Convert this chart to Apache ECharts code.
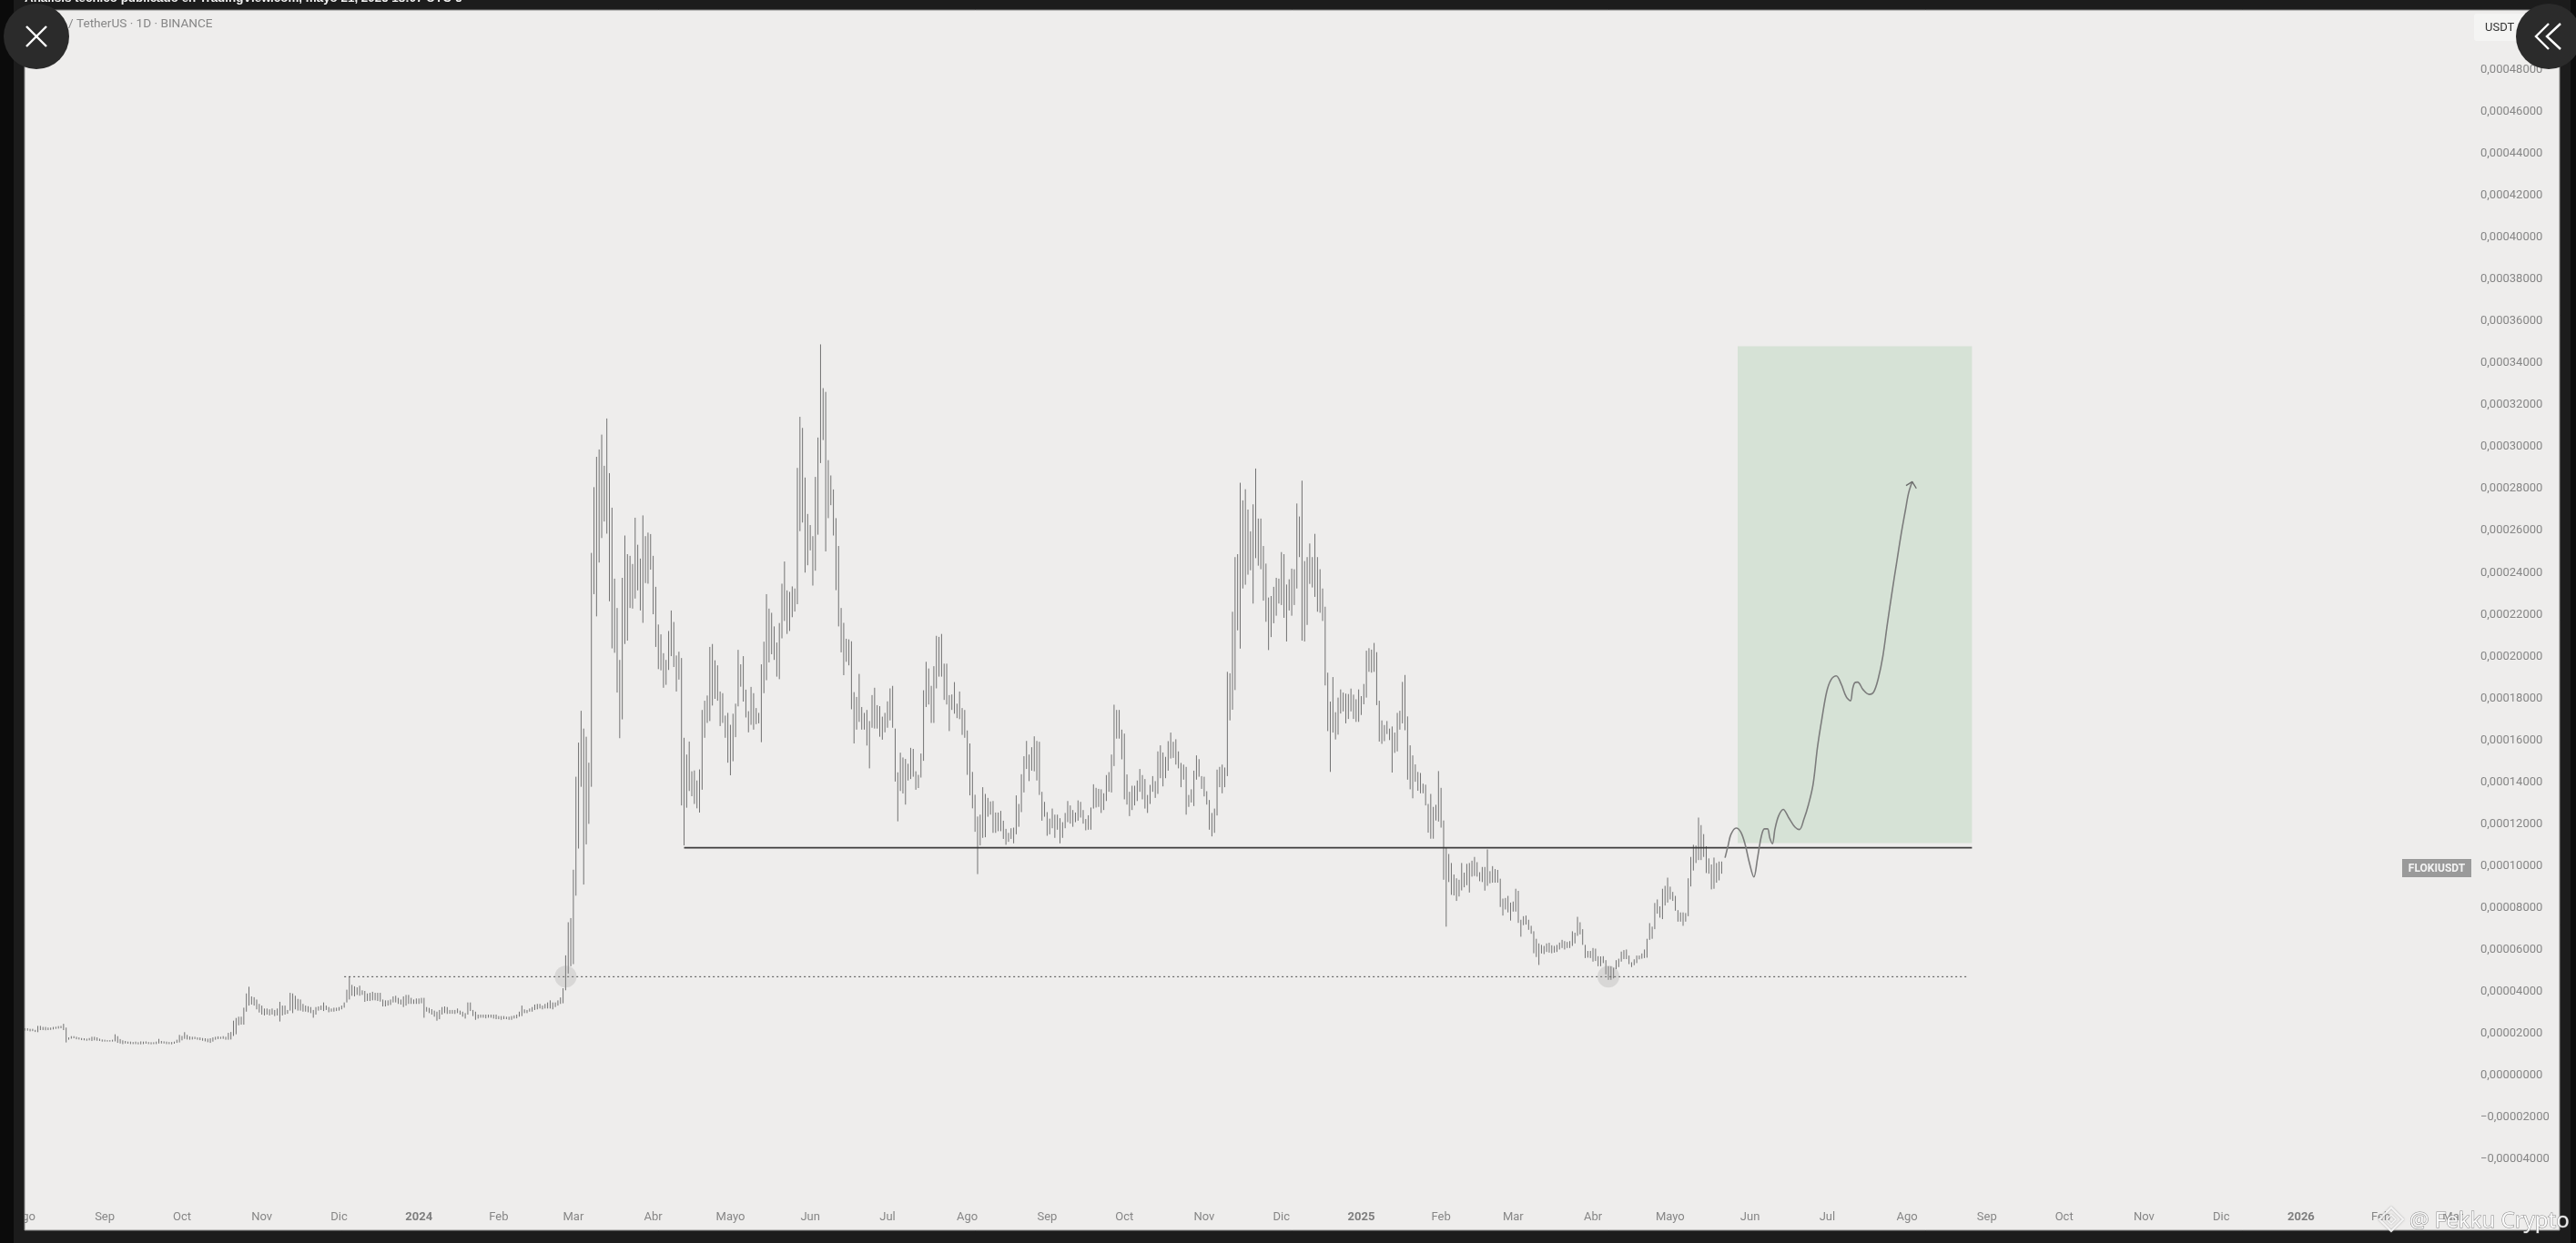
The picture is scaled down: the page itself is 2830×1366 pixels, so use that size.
<!DOCTYPE html>
<html><head><meta charset="utf-8"><title>FLOKI / TetherUS 1D</title>
<style>html,body{margin:0;padding:0;background:#1c1c1c}#c{width:2830px;height:1366px}</style>
<script src="https://cdn.jsdelivr.net/npm/echarts@6/dist/echarts.min.js"></script></head>
<body><div id="c"></div><script>
// Prices are in units of 0.00001 USDT, one entry per daily bar from 2023-08-01.
const barHigh = [
2.24,2.24,2.21,2.21,2.16,2.35,2.35,2.30,2.30,2.27,
2.27,2.30,2.31,2.34,2.35,2.45,2.27,1.80,1.86,1.86,
1.83,1.80,1.77,1.76,1.74,1.77,1.83,1.83,1.80,1.74,
1.70,1.69,1.67,1.67,1.69,1.95,1.86,1.72,1.66,1.63,
1.60,1.60,1.58,1.60,1.57,1.61,1.60,1.61,1.58,1.57,
1.57,1.60,1.73,1.63,1.61,1.60,1.58,1.58,1.60,1.69,
1.92,1.87,2.05,1.92,1.85,1.83,1.83,1.80,1.80,1.77,
1.76,1.74,1.76,1.80,1.83,1.85,1.83,1.86,1.83,2.02,
2.06,2.60,2.73,2.79,2.79,3.22,3.90,4.22,3.76,3.72,
3.61,3.40,3.32,3.18,3.18,3.14,3.18,3.11,3.18,3.50,
3.32,3.32,3.11,3.93,3.90,3.79,3.64,3.61,3.40,3.32,
3.29,3.25,3.11,3.25,3.28,3.32,3.47,3.32,3.25,3.18,
3.22,3.22,3.25,3.32,3.47,4.08,4.70,4.31,4.24,4.19,
4.27,4.05,4.02,3.90,3.93,3.98,3.93,3.93,3.93,3.61,
3.57,3.57,3.61,3.76,3.79,3.69,3.61,3.76,3.83,3.83,
3.69,3.61,3.66,3.66,3.69,3.69,3.25,3.21,3.15,3.08,
3.03,3.11,3.25,3.28,3.25,3.11,3.11,3.11,3.18,3.08,
3.03,2.96,3.47,3.47,3.11,3.03,2.89,2.89,2.89,2.89,
2.89,2.89,2.89,2.89,2.82,2.82,2.82,2.79,2.79,2.82,
2.85,2.89,3.03,3.32,3.14,3.11,3.18,3.25,3.37,3.40,
3.40,3.32,3.40,3.47,3.57,3.47,3.47,3.57,3.71,4.15,
5.72,7.30,7.50,9.81,14.25,15.88,17.40,16.55,16.16,14.92,
24.94,28.08,29.53,29.88,30.59,29.10,31.36,28.75,27.10,23.71,
22.31,19.83,23.75,25.77,24.88,24.80,24.41,26.62,25.33,24.67,
26.73,25.74,25.91,25.84,24.80,23.32,21.52,21.05,20.15,19.83,
21.21,22.19,21.64,20.04,20.22,19.92,16.11,15.31,15.93,14.51,
14.55,14.07,14.60,17.44,17.88,18.13,20.45,20.59,19.81,19.57,
18.32,18.24,17.17,17.30,16.73,17.26,17.74,20.31,19.62,20.01,
18.41,17.38,18.54,18.24,17.53,17.30,19.62,20.70,22.97,22.28,
22.08,21.43,20.66,21.59,23.47,24.53,23.15,23.08,23.34,23.24,
29.00,31.44,30.91,28.54,26.80,26.27,25.74,28.57,30.45,34.90,
32.81,32.63,29.37,28.64,27.97,26.60,25.27,22.31,21.60,20.84,
20.81,20.72,18.29,18.06,19.16,17.58,17.30,17.44,16.91,18.15,
18.50,17.67,17.62,17.12,17.30,17.85,18.47,18.59,16.55,14.46,
15.40,15.17,15.10,14.87,15.63,15.58,14.51,14.34,15.36,18.38,
19.74,19.42,18.59,19.53,20.98,20.93,21.07,19.65,19.65,18.15,
18.18,18.77,17.74,18.32,17.53,17.44,16.46,15.84,14.48,13.39,
12.35,12.44,13.75,13.43,13.24,13.07,13.09,12.54,12.54,12.62,
12.15,11.76,11.57,11.79,11.82,13.36,12.95,14.37,15.23,15.96,
15.31,15.66,16.18,15.96,15.92,13.53,13.05,12.56,12.25,12.73,
12.44,12.44,12.27,12.08,12.52,13.09,12.88,12.66,12.54,13.12,
13.05,12.66,12.23,12.41,12.78,13.89,13.72,13.67,13.65,13.46,
14.33,14.47,15.31,17.69,17.44,17.44,16.50,16.31,14.36,13.53,
13.82,13.82,14.07,14.62,14.33,14.14,13.38,13.86,14.28,14.04,
15.46,15.75,15.41,15.20,15.95,16.36,15.92,16.04,15.46,14.91,
14.83,14.72,13.38,13.65,14.54,15.27,15.09,14.28,14.25,13.56,
13.14,12.52,12.73,14.59,14.72,14.83,14.69,19.26,19.19,22.13,
24.74,24.88,28.29,27.45,27.98,27.01,25.97,27.26,28.97,26.58,
26.58,25.27,24.43,22.81,22.88,23.32,23.75,23.71,24.98,24.88,
23.43,23.68,24.19,24.16,27.30,26.68,28.39,24.55,24.74,25.39,
24.74,25.85,24.74,24.16,23.24,22.37,19.22,17.84,19.01,17.33,
18.03,18.42,18.27,18.22,18.20,18.46,18.17,17.95,18.42,18.10,
18.68,20.27,20.39,20.32,20.64,20.20,17.88,16.94,16.72,16.91,
16.55,16.65,16.36,17.30,17.40,18.78,19.11,17.13,15.75,15.27,
14.84,14.48,14.43,13.92,13.87,12.95,13.43,12.81,12.91,14.52,
13.72,12.16,10.85,10.56,10.13,9.58,9.40,9.33,10.13,9.67,
10.09,10.13,10.24,10.42,10.17,9.69,9.94,9.94,10.78,9.74,
9.98,9.84,9.80,9.38,8.43,8.46,8.56,8.24,8.29,8.90,
8.80,7.42,7.59,7.62,7.42,7.13,6.87,6.51,6.29,6.22,
6.17,6.29,6.32,6.20,6.17,6.22,6.33,6.46,6.40,6.36,
6.40,6.87,6.80,7.56,7.30,6.97,6.22,5.93,5.93,6.07,
6.04,5.68,5.67,5.68,5.49,5.20,5.20,5.13,5.49,5.56,
5.90,5.97,6.00,5.71,5.39,5.53,5.71,5.71,5.81,6.00,
6.51,7.26,7.09,8.22,8.39,8.06,8.90,9.04,9.43,9.00,
8.75,8.56,7.88,7.77,7.77,7.74,9.40,10.42,11.00,10.96,
12.30,11.94,11.51,10.93,10.35,10.06,10.39,10.13,10.20,10.20];
const barLow = [
2.12,2.12,2.09,2.10,2.06,2.05,2.15,2.15,2.14,2.15,
2.16,2.18,2.21,2.22,2.24,2.15,1.56,1.69,1.74,1.76,
1.71,1.70,1.67,1.66,1.64,1.66,1.63,1.66,1.64,1.63,
1.60,1.60,1.60,1.60,1.60,1.61,1.54,1.51,1.48,1.51,
1.50,1.48,1.48,1.48,1.47,1.47,1.48,1.50,1.48,1.47,
1.48,1.48,1.51,1.51,1.51,1.48,1.48,1.47,1.50,1.54,
1.56,1.66,1.73,1.70,1.69,1.70,1.72,1.69,1.67,1.64,
1.61,1.57,1.54,1.60,1.69,1.72,1.73,1.73,1.69,1.69,
1.70,1.87,1.95,2.38,2.41,2.41,3.03,3.32,3.37,3.32,
3.14,2.99,2.89,2.85,2.89,2.85,2.89,2.82,2.85,2.56,
2.85,2.89,2.93,3.08,2.96,3.14,3.08,3.08,3.03,3.03,
3.00,2.96,2.74,2.89,3.08,3.11,3.06,3.11,3.00,3.03,
3.03,3.06,3.08,3.14,3.22,3.47,3.61,3.79,3.76,3.83,
3.79,3.83,3.50,3.54,3.54,3.57,3.57,3.54,3.51,3.28,
3.28,3.32,3.35,3.47,3.47,3.40,3.37,3.25,3.32,3.40,
3.40,3.40,3.40,3.40,3.43,2.74,3.03,2.96,2.89,2.79,
2.60,2.67,2.89,2.96,2.92,2.93,2.93,2.92,2.96,2.89,
2.79,2.70,2.89,3.06,2.82,2.64,2.70,2.74,2.74,2.71,
2.74,2.74,2.70,2.67,2.67,2.64,2.67,2.67,2.64,2.64,
2.70,2.71,2.79,2.82,2.96,2.96,3.03,3.03,3.11,3.14,
3.18,3.14,3.18,3.18,3.18,3.14,3.25,3.32,3.40,3.43,
4.05,4.85,5.20,5.30,8.57,10.82,13.77,9.10,11.02,12.00,
13.77,22.97,21.91,24.48,25.65,26.44,25.86,22.63,20.38,20.17,
18.27,16.09,16.99,20.59,20.75,22.31,22.28,22.76,23.15,22.19,
21.60,23.50,23.47,24.14,22.01,20.45,19.39,19.33,18.50,18.64,
19.35,20.01,19.49,18.32,18.89,12.88,10.97,12.77,13.57,13.32,
12.95,12.74,12.54,13.63,16.11,16.82,16.91,17.65,17.97,17.88,
16.67,16.82,16.11,14.92,14.32,14.99,16.14,17.61,18.55,17.84,
17.08,16.37,16.73,16.50,16.76,16.80,15.90,18.24,18.86,19.71,
20.10,19.83,19.03,18.91,20.86,21.69,21.07,21.21,21.87,22.14,
22.49,25.98,26.39,24.00,24.35,25.06,23.38,24.09,25.81,29.23,
30.33,25.01,26.60,27.22,25.77,23.16,21.43,20.19,19.10,19.74,
19.57,17.47,15.84,16.50,16.87,16.50,16.50,15.74,14.65,16.59,
16.55,16.55,16.16,16.02,16.37,16.59,16.94,16.59,14.02,12.12,
13.57,13.45,12.92,14.07,14.14,14.25,13.63,13.71,14.21,15.01,
17.58,17.70,16.82,16.82,18.47,19.03,19.03,17.92,17.70,16.43,
17.44,17.26,17.05,17.00,16.25,16.11,14.34,13.36,12.74,11.62,
9.60,10.97,11.33,11.36,12.34,12.44,11.57,11.57,11.65,11.65,
11.28,11.00,11.14,11.28,11.07,11.50,11.86,12.56,13.50,14.62,
14.04,14.54,14.51,14.07,13.38,12.15,12.34,11.43,11.50,11.79,
11.33,11.72,11.07,11.33,11.79,12.08,12.01,11.86,12.08,12.15,
12.30,12.01,11.69,11.72,11.72,12.73,12.78,12.81,12.52,12.66,
13.09,13.53,13.50,14.76,16.07,16.07,15.08,13.17,12.92,12.37,
12.66,12.88,13.09,13.53,13.17,12.73,12.52,12.95,13.53,13.24,
13.43,14.18,13.79,14.18,14.54,15.12,15.15,14.83,14.65,13.75,
14.11,12.44,12.81,13.02,12.85,14.11,14.25,13.67,13.31,12.92,
11.72,11.40,11.57,12.40,13.75,13.46,13.75,14.28,16.94,17.45,
18.39,21.24,20.37,23.24,23.42,23.90,24.11,22.52,24.69,24.33,
24.16,22.66,21.65,20.30,20.92,21.58,21.94,22.52,22.45,21.84,
20.71,22.19,21.94,22.45,23.24,24.74,20.75,20.71,21.50,23.46,
23.29,22.84,22.13,22.08,21.69,18.61,16.43,14.48,16.36,16.03,
16.26,17.27,17.37,16.80,17.01,17.37,17.01,16.87,16.87,17.20,
17.71,18.03,19.26,19.22,19.26,17.67,15.93,15.82,15.95,16.29,
16.00,14.45,15.39,15.46,16.50,16.80,16.47,14.11,13.65,13.22,
14.01,13.58,13.46,13.46,12.88,11.58,11.29,11.29,12.16,12.11,
11.82,9.33,7.09,9.22,8.61,8.58,8.32,8.53,8.82,8.97,
9.07,8.72,9.48,9.51,9.48,9.26,9.22,8.81,9.04,9.16,
9.19,9.19,9.19,8.03,7.62,7.91,7.77,7.38,7.81,7.81,
7.27,6.61,7.16,7.19,6.94,6.75,5.82,5.64,5.26,5.81,
5.78,5.88,5.85,5.82,5.85,5.88,6.00,6.07,6.00,6.07,
6.07,6.17,6.29,6.65,6.72,6.22,5.59,5.61,5.59,5.42,
5.45,5.20,5.20,5.35,4.81,4.55,4.55,4.62,5.06,5.16,
5.42,5.54,5.54,5.30,5.16,5.25,5.35,5.53,5.56,5.59,
5.61,6.46,6.51,6.97,7.71,7.52,7.45,8.10,8.24,8.39,
8.32,7.85,7.33,7.33,7.13,7.33,7.59,9.01,9.77,10.13,
10.27,10.27,10.42,9.65,9.62,8.87,8.90,9.19,9.30,9.62];

// Hand-drawn projection, as [bar number, price]
const projectionDay = [660.3,661.5,662.6,664.6,666.5,668.2,669.7,671.5,672.9,674.4,675.6,676.8,677.7,678.7,679.7,681.1,682.9,685.0,687.4,689.2,690.9,692.7,694.5,696.2,698.0,699.8,701.5,703.5,705.4,707.4,709.0,709.8,710.6,711.8,713.9,716.3,718.0,719.8,721.6,723.3,725.1,726.9,728.6,730.4,731.6,733.0];
const projectionPrice = [10.38,10.97,11.50,11.80,11.59,10.97,10.17,9.46,10.35,11.41,11.76,11.76,11.32,11.05,11.76,12.38,12.69,12.30,11.85,11.73,12.21,12.92,13.89,15.66,17.08,18.32,18.89,19.07,18.68,18.06,17.88,18.41,18.73,18.77,18.41,18.18,18.29,18.94,20.01,21.52,23.02,24.44,25.77,27.01,27.81,28.34];
const arrowDay = [730.6,733.0,734.6];
const arrowPrice = [28.16,28.34,28.02];

const supportSolid = {from:256, to:756.2, price:10.86};
const supportDotted = {from:124, to:754.8, price:4.70};
const targetBox = {from:665.2, to:756.2, top:34.81, bottom:11.08};
const touchDay = [210.0,615.0];
const touchPrice = [4.70,4.70];

const monthNames = ['','Feb','Mar','Abr','Mayo','Jun','Jul','Ago','Sep','Oct','Nov','Dic'];
const START = Date.UTC(2023,7,1), DAY = 86400000, CATEGORY_COUNT = 951;
const categories = [];
for (let i=0;i<CATEGORY_COUNT;i++) categories.push(new Date(START+i*DAY).toISOString().slice(0,10));

const GREY='#727272', LABEL='#868686', FONT='Roboto, sans-serif';
const chart = echarts.init(document.getElementById('c'),null,{renderer:'canvas'});
const W=2830,H=1366;
function pair(xs,ys){return xs.map((x,i)=>[x,ys[i]]);}
const frame='#1c1c1c', ink='#0b0b0b';
chart.setOption({
  animation:false,
  backgroundColor:'#eeedec',
  grid:{left:26,top:54,width:2690,height:1265.56,containLabel:false},
  xAxis:[
   {type:'category',data:categories,boundaryGap:true,
    axisLine:{show:false},axisTick:{show:false},splitLine:{show:false},
    axisLabel:{margin:12,color:LABEL,fontFamily:FONT,fontSize:13,hideOverlap:false,
      interval:(i,v)=>v.slice(8)==='01',
      formatter:v=>{const m=+v.slice(5,7);return m===1?'{y|'+v.slice(0,4)+'}':monthNames[m-1];},
      rich:{y:{fontFamily:FONT,fontSize:13,fontWeight:'bold',color:'#7e7e7e'}}}},
   {type:'value',min:-0.5,max:CATEGORY_COUNT-0.5,show:false,position:'top'}
  ],
  yAxis:{type:'value',position:'right',min:-6,max:49,interval:2,scale:false,
    axisLine:{show:false},axisTick:{show:false},splitLine:{show:false},
    axisLabel:{margin:9,showMinLabel:false,showMaxLabel:false,color:LABEL,fontFamily:FONT,fontSize:13,
      formatter:v=>{const a=(Math.abs(v)*1e-5).toFixed(8).replace('.',',');return v<0?'\u2212'+a:a;}}},
  series:[
   {type:'line',xAxisIndex:1,data:[],silent:true,z:1,
    markArea:{silent:true,itemStyle:{color:'#d6e2d6'},
      data:[[{coord:[targetBox.from,targetBox.top]},{coord:[targetBox.to,targetBox.bottom]}]]}},
   {type:'candlestick',xAxisIndex:0,barWidth:0,silent:true,z:3,
    data:barHigh.map((h,i)=>[barLow[i],h,barLow[i],h]),
    itemStyle:{color:GREY,color0:GREY,borderColor:GREY,borderColor0:GREY,borderWidth:1}},
   {type:'scatter',xAxisIndex:1,data:pair(touchDay,touchPrice),symbolSize:24,silent:true,z:6,
    itemStyle:{color:'rgba(150,150,150,0.3)'}},
   {type:'line',xAxisIndex:1,data:[[supportSolid.from,supportSolid.price],[supportSolid.to,supportSolid.price]],
    showSymbol:false,silent:true,z:4,lineStyle:{color:'#3c3c3c',width:1.6}},
   {type:'line',xAxisIndex:1,data:[[supportDotted.from,supportDotted.price],[supportDotted.to,supportDotted.price]],
    showSymbol:false,silent:true,z:4,lineStyle:{color:'#4a4a4a',width:1,type:[2,3]}},
   {type:'line',xAxisIndex:1,data:pair(projectionDay,projectionPrice),smooth:0.35,showSymbol:false,silent:true,z:5,
    lineStyle:{color:'#7c7c7c',width:1.6}},
   {type:'line',xAxisIndex:1,data:pair(arrowDay,arrowPrice),showSymbol:false,silent:true,z:5,
    lineStyle:{color:'#6c6c6c',width:1.4}}
  ],
  graphic:[
   // window frame around the chart panel
   {type:'rect',z:50,shape:{x:0,y:0,width:W,height:11},style:{fill:frame}},
   {type:'rect',z:50,shape:{x:0,y:1352,width:W,height:14},style:{fill:frame}},
   {type:'rect',z:50,shape:{x:0,y:0,width:27,height:H},style:{fill:frame}},
   {type:'rect',z:50,shape:{x:2812,y:0,width:18,height:H},style:{fill:frame}},
   {type:'rect',z:51,shape:{x:0,y:0,width:15,height:H},style:{fill:ink}},
   {type:'rect',z:51,shape:{x:2824,y:0,width:6,height:H},style:{fill:ink}},
   {type:'rect',z:52,shape:{x:27,y:11,width:2785,height:1341},style:{fill:'none',stroke:'#8a8a8a',lineWidth:1}},
   {type:'text',z:53,style:{x:27,y:5,text:'Análisis técnico publicado en TradingView.com, mayo 21, 2025 18:07 UTC-5',
     verticalAlign:'bottom',align:'left',fill:'#f2f2f2',font:'bold 13.4px "Liberation Sans", sans-serif'}},
   // header and price tags
   {type:'text',z:20,style:{x:75,y:27,text:'/ TetherUS · 1D · BINANCE',verticalAlign:'middle',fill:LABEL,font:'13.6px '+FONT}},
   {type:'rect',z:20,shape:{x:2718,y:15,width:60,height:30,r:3},style:{fill:'#f4f4f3'}},
   {type:'text',z:21,style:{x:2730,y:31,text:'USDT',verticalAlign:'middle',fill:'#333333',font:'13px '+FONT}},
   {type:'rect',z:20,shape:{x:2639,y:944,width:76,height:20},style:{fill:'#9a9a9a'}},
   {type:'text',z:21,style:{x:2677,y:955,text:'FLOKIUSDT',align:'center',verticalAlign:'middle',fill:'#f4f4f4',font:'bold 12px '+FONT}},
   // viewer buttons
   {type:'circle',z:60,shape:{cx:40,cy:40,r:36},style:{fill:'#2b2b2b'}},
   {type:'line',z:61,shape:{x1:29,y1:29,x2:51,y2:51},style:{stroke:'#fff',lineWidth:2.4}},
   {type:'line',z:61,shape:{x1:51,y1:29,x2:29,y2:51},style:{stroke:'#fff',lineWidth:2.4}},
   {type:'circle',z:60,shape:{cx:2800,cy:40,r:36},style:{fill:'#2b2b2b'}},
   {type:'polyline',z:61,shape:{points:[[2800,26],[2786,40],[2800,54]]},style:{stroke:'#fff',fill:'none',lineWidth:2.4}},
   {type:'polyline',z:61,shape:{points:[[2813,26],[2798,40],[2813,54]]},style:{stroke:'#fff',fill:'none',lineWidth:2.4}},
   // watermark
   {type:'polygon',z:70,shape:{points:[[2627,1327],[2640,1340],[2627,1353],[2614,1340]]},style:{fill:'none',stroke:'rgba(255,255,255,0.85)',lineWidth:2,shadowColor:'rgba(90,90,90,0.6)',shadowBlur:2}},
   {type:'polygon',z:70,shape:{points:[[2627,1335],[2632,1340],[2627,1345],[2622,1340]]},style:{fill:'none',stroke:'rgba(255,255,255,0.85)',lineWidth:1.5,shadowColor:'rgba(90,90,90,0.6)',shadowBlur:2}},
   {type:'text',z:70,style:{x:2647,y:1342,text:'@ Fekku Crypto',verticalAlign:'middle',fill:'rgba(255,255,255,0.9)',font:'24px "Noto Sans", sans-serif',stroke:'rgba(110,110,110,0.8)',lineWidth:1}}
  ]
});
</script></body></html>
